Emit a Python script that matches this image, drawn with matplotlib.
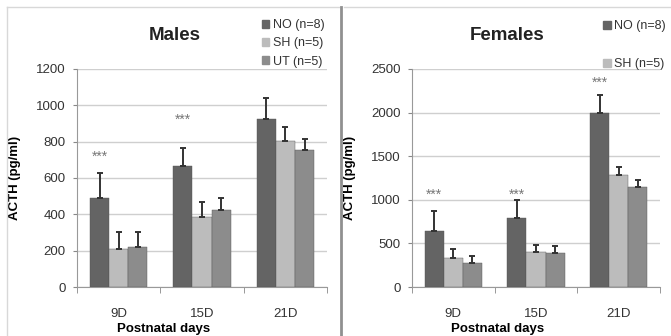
import matplotlib.pyplot as plt
import numpy as np
from matplotlib.lines import Line2D
from matplotlib.patches import Patch

plt.rcParams['font.family'] = ['Liberation Sans', 'DejaVu Sans']

days = ['9D', '15D', '21D']
groups = ['NO (n=8)', 'SH (n=5)', 'UT (n=5)']
colors = ['#646464', '#bcbcbc', '#8c8c8c']

# males ACTH (pg/ml), mean and upper error
male_no = [490, 665, 925]
male_sh = [210, 385, 805]
male_ut = [220, 425, 755]
male_no_err = [135, 100, 115]
male_sh_err = [90, 85, 73]
male_ut_err = [80, 67, 57]

# females
female_no = [640, 795, 1995]
female_sh = [335, 400, 1285]
female_ut = [270, 390, 1145]
female_no_err = [235, 200, 205]
female_sh_err = [105, 85, 95]
female_ut_err = [80, 75, 80]

male_stars = [715, 920, None]
female_stars = [1060, 1060, 2340]

fig = plt.figure(figsize=(6.71, 3.36), dpi=100)

# panel frames
fig.add_artist(Line2D([0.011, 0.505], [0.979, 0.979], color='#d8d8d8', lw=1))
fig.add_artist(Line2D([0.011, 0.011], [0.0, 0.979], color='#d8d8d8', lw=1))
fig.add_artist(Line2D([0.508, 0.508], [0.0, 0.979], color='#909090', lw=2))
fig.add_artist(Line2D([0.512, 1.0], [0.979, 0.979], color='#d8d8d8', lw=1))


def draw(ax, means, errs, ymax, step, stars, nleg, title, tx, lx, ly, lsp):
    x = np.arange(len(days))
    w = 0.23
    for i in range(3):
        ax.bar(x + (i - 1) * w, means[i], w, color=colors[i], edgecolor='#555555', lw=0.3,
               yerr=[[0] * 3, errs[i]], capsize=2.5,
               error_kw=dict(ecolor='#333333', elinewidth=1.4, capthick=1.4), zorder=3)
    for i, s in enumerate(stars):
        if s is not None:
            ax.text(x[i] - w, s, '***', ha='center', va='center', fontsize=10, color='#777777')
    ax.set_xlim(-0.5, 2.5)
    ax.set_ylim(0, ymax)
    ax.set_yticks(np.arange(0, ymax + 1, step))
    ax.tick_params(axis='y', labelsize=9.5, length=3, color='#888888', pad=5, labelcolor='#333333')
    ax.set_xticks(x)
    ax.set_xticklabels(days)
    ax.set_xticks([-0.5, 0.5, 1.5, 2.5], minor=True)
    ax.tick_params(axis='x', which='major', length=0, labelsize=9.5, pad=15, labelcolor='#333333')
    ax.tick_params(axis='x', which='minor', length=4, color='#888888')
    ax.grid(axis='y', color='#cfcfcf', lw=1, zorder=0)
    for s in ['top', 'right']:
        ax.spines[s].set_visible(False)
    for s in ['left', 'bottom']:
        ax.spines[s].set_color('#999999')
    ax.set_xlabel('Postnatal days', fontsize=9.5, fontweight='bold')
    ax.xaxis.set_label_coords(0.345, -0.165)
    ax.set_ylabel('ACTH (pg/ml)', fontsize=9.5, fontweight='bold')
    ax.yaxis.set_label_coords(-0.225, 0.5)
    fig.text(tx, 0.895, title, fontsize=13.5, fontweight='bold', ha='center', va='center', color='#222222')
    handles = [Patch(color=colors[i]) for i in range(nleg)]
    ax.legend(handles, groups[:nleg], loc='upper left', bbox_to_anchor=(lx, ly),
              bbox_transform=fig.transFigure, frameon=False, fontsize=9,
              handlelength=0.6, handleheight=0.6, handletextpad=0.3,
              labelspacing=lsp, borderpad=0, borderaxespad=0, labelcolor='#333333')


ax1 = fig.add_axes([0.1148, 0.1458, 0.3726, 0.649])
draw(ax1, [male_no, male_sh, male_ut], [male_no_err, male_sh_err, male_ut_err],
     1200, 200, male_stars, 3, 'Males', 0.261, 0.39, 0.943, 0.5)

ax2 = fig.add_axes([0.614, 0.1458, 0.3696, 0.649])
draw(ax2, [female_no, female_sh, female_ut], [female_no_err, female_sh_err, female_ut_err],
     2500, 500, female_stars, 2, 'Females', 0.756, 0.899, 0.94, 2.1)

fig.savefig('out.png', dpi=100)
